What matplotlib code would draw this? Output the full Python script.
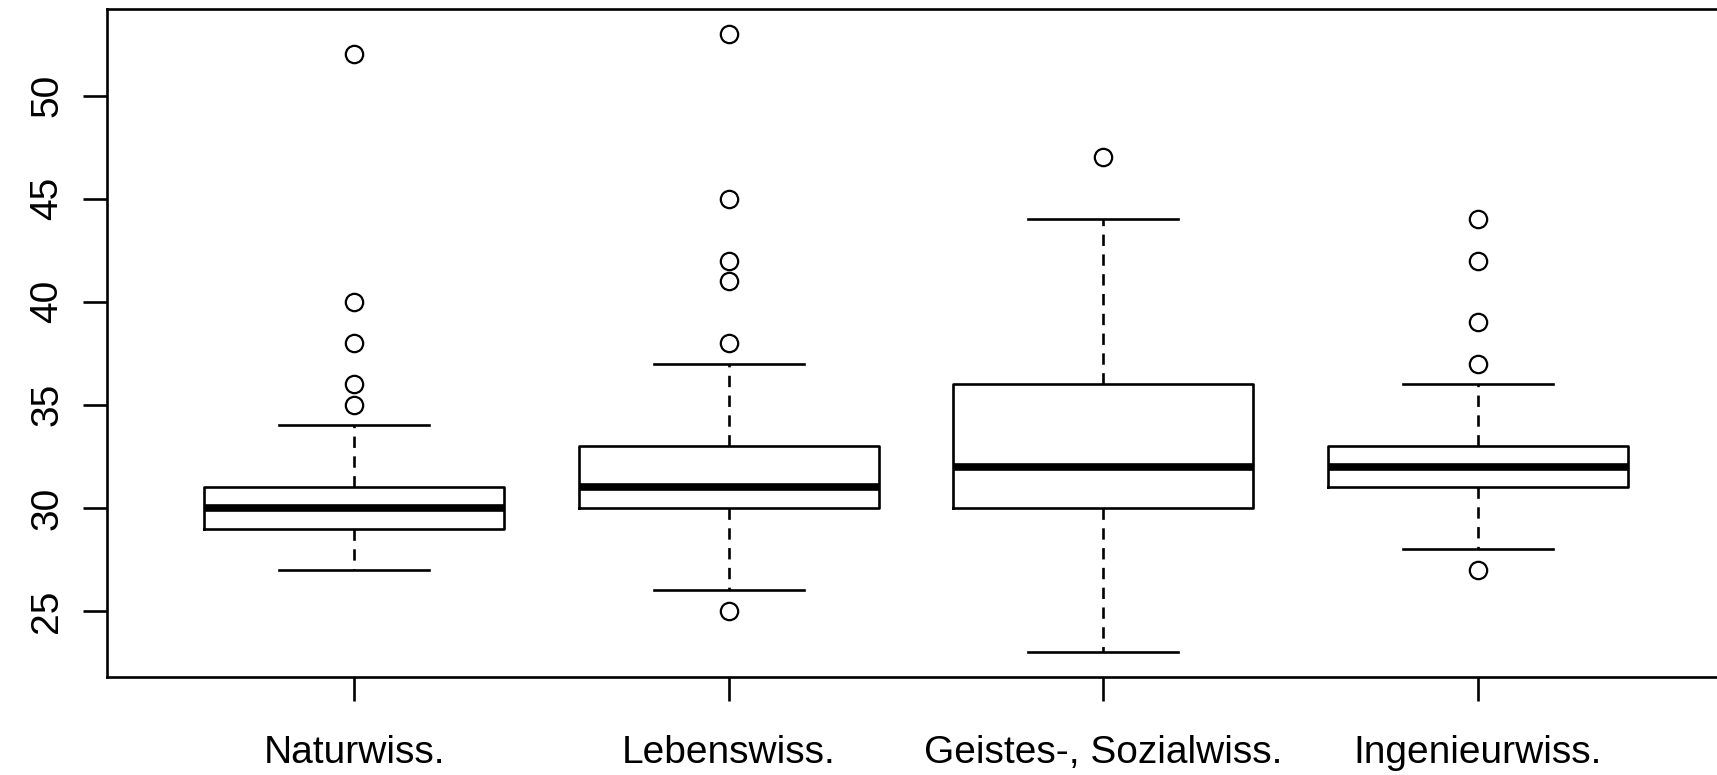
import matplotlib.pyplot as plt

plt.rcParams['font.family'] = ['Liberation Sans', 'DejaVu Sans']

# Fachgruppen und Kennwerte der Boxplots
gruppen = ['Naturwiss.', 'Lebenswiss.', 'Geistes-, Sozialwiss.', 'Ingenieurwiss.']
whisker_unten = [27, 26, 23, 28]
q1 = [29, 30, 30, 31]
median = [30, 31, 32, 32]
q3 = [31, 33, 36, 33]
whisker_oben = [34, 37, 44, 36]
ausreisser = [
    [35, 36, 38, 40, 52],
    [25, 38, 41, 42, 45, 53],
    [47],
    [27, 37, 39, 42, 44],
]
yticks = [25, 30, 35, 40, 45, 50]

stats = []
for i, name in enumerate(gruppen):
    stats.append({
        'label': name,
        'whislo': whisker_unten[i],
        'q1': q1[i],
        'med': median[i],
        'q3': q3[i],
        'whishi': whisker_oben[i],
        'fliers': ausreisser[i],
    })

fig = plt.figure(figsize=(17.17, 7.75), dpi=100)
ax = fig.add_axes([107 / 1717, 98 / 775, 1618 / 1717, 668 / 775])

lw = 1.9
ax.bxp(stats, positions=[1, 2, 3, 4], widths=0.8, showfliers=True,
       boxprops=dict(color='black', linewidth=lw),
       medianprops=dict(color='black', linewidth=5.5, solid_capstyle='butt'),
       whiskerprops=dict(color='black', linewidth=lw, linestyle=(0, (4.3, 3.2))),
       capprops=dict(color='black', linewidth=lw),
       capwidths=0.4,
       flierprops=dict(marker='o', markerfacecolor='none', markeredgecolor='black',
                       markersize=12.5, markeredgewidth=1.6))

ax.set_xlim(0.34, 4.66)
ax.set_ylim(21.8, 54.2)
ax.set_yticks(yticks)
ax.set_yticklabels([str(v) for v in yticks], rotation=90, va='center')
ax.set_xticks([1, 2, 3, 4])
ax.set_xticklabels(gruppen)

for s in ax.spines.values():
    s.set_linewidth(1.9)
ax.tick_params(axis='both', length=17, width=1.9, labelsize=28, colors='black')
ax.tick_params(axis='x', pad=25)
ax.tick_params(axis='y', pad=13)

fig.savefig('out.png', dpi=100, facecolor='white')
